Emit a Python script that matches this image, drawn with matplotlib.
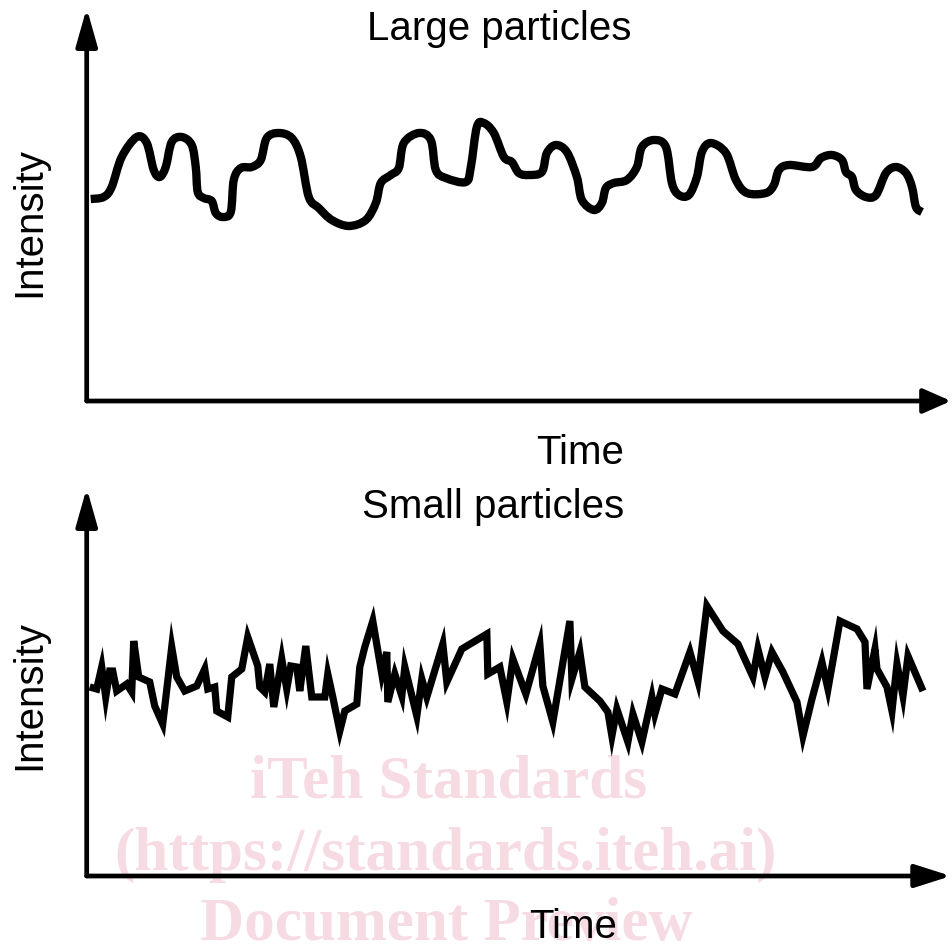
import matplotlib
matplotlib.use("Agg")
import matplotlib.pyplot as plt
from matplotlib.path import Path
from matplotlib.patches import PathPatch

# Large particles: smooth, slow fluctuations
large_time = [4, 17, 25, 35, 50, 60, 67, 73, 79, 85, 95, 105, 109, 111, 117, 125,
              129, 136, 144, 147, 154, 165, 174, 180, 192, 205, 214, 222, 232, 245,
              262, 279, 289, 294, 304, 312, 317, 332, 344, 349, 359, 379, 384, 390,
              397, 407, 417, 425, 432, 442, 455, 460, 469, 480, 490, 495, 507, 515,
              519, 527, 540, 550, 555, 567, 579, 585, 592, 602, 610, 615, 624, 639,
              649, 660, 679, 687, 692, 702, 725, 734, 745, 755, 759, 765, 769, 779,
              789, 799, 809, 819, 825, 829, 835]
large_intensity = [202, 204, 214, 244, 264, 258, 231, 224, 234, 259, 264, 256, 234,
                   209, 203, 200, 188, 184, 189, 221, 233, 234, 241, 263, 268, 263,
                   244, 204, 193, 181, 175, 181, 198, 218, 226, 233, 258, 268, 261,
                   231, 223, 219, 234, 274, 278, 268, 244, 239, 228, 226, 229, 248,
                   256, 249, 224, 201, 191, 198, 213, 218, 221, 234, 254, 261, 254,
                   218, 206, 206, 224, 249, 258, 248, 221, 208, 208, 216, 231, 236,
                   234, 243, 246, 241, 229, 224, 211, 204, 206, 228, 234, 228, 214,
                   194, 189]

# Small particles: fast, jagged fluctuations
small_time = [3, 10, 15, 19, 23, 26, 30, 40, 45, 47, 52, 63, 68, 76, 85, 90, 98,
              110, 118, 121, 128, 130, 141, 145, 155, 161, 171, 173, 178, 183, 187,
              195, 200, 204, 210, 213, 219, 225, 238, 241, 246, 253, 258, 270, 273,
              278, 286, 295, 300, 301, 308, 315, 318, 330, 335, 340, 356, 360, 375,
              400, 401, 413, 420, 426, 439, 453, 456, 466, 483, 485, 493, 498, 513,
              521, 525, 530, 541, 546, 555, 565, 568, 575, 588, 603, 611, 620, 636,
              651, 666, 671, 678, 685, 696, 710, 716, 725, 735, 741, 753, 770, 778,
              780, 788, 790, 800, 805, 810, 816, 821, 836]
small_intensity = [189, 187, 209, 179, 205, 205, 185, 192, 184, 235, 199, 194, 170,
                   152, 229, 199, 185, 190, 207, 187, 189, 165, 159, 199, 207, 239,
                   210, 189, 184, 212, 169, 217, 187, 210, 209, 185, 230, 179, 179,
                   202, 179, 145, 165, 172, 209, 229, 255, 202, 224, 174, 202, 180,
                   209, 160, 197, 179, 232, 194, 227, 242, 202, 209, 174, 217, 182,
                   232, 190, 154, 255, 197, 224, 189, 175, 164, 140, 167, 134, 162,
                   134, 179, 162, 187, 182, 224, 195, 270, 245, 232, 199, 227, 199,
                   224, 204, 174, 140, 177, 214, 187, 255, 247, 234, 187, 227, 207,
                   189, 165, 212, 180, 220, 185]

W = H = 952.0
FONT = "Liberation Sans"


def px_axes(fig, left, top, right, bottom):
    ax = fig.add_axes([left / W, 1 - bottom / H, (right - left) / W, (bottom - top) / H])
    ax.set_axis_off()
    return ax


def draw_arrows(ax, x_head, y_head):
    lw = 3.4
    # y axis arrow
    ax.annotate("", xy=(0, 1), xytext=(0, 0), xycoords="axes fraction",
                arrowprops=dict(arrowstyle="-|>,head_length=%g,head_width=%g" % y_head,
                                lw=lw, color="black", shrinkA=0, shrinkB=0,
                                mutation_scale=1))
    # x axis arrow
    ax.annotate("", xy=(1, 0), xytext=(0, 0), xycoords="axes fraction",
                arrowprops=dict(arrowstyle="-|>,head_length=%g,head_width=%g" % x_head,
                                lw=lw, color="black", shrinkA=0, shrinkB=0,
                                mutation_scale=1))


def smooth_path(xs, ys):
    # catmull-rom through the points, drawn as cubic bezier segments
    pts = list(zip(xs, ys))
    verts = [pts[0]]
    codes = [Path.MOVETO]
    n = len(pts)
    for i in range(n - 1):
        p0 = pts[max(i - 1, 0)]
        p1 = pts[i]
        p2 = pts[i + 1]
        p3 = pts[min(i + 2, n - 1)]
        c1 = (p1[0] + (p2[0] - p0[0]) / 6, p1[1] + (p2[1] - p0[1]) / 6)
        c2 = (p2[0] - (p3[0] - p1[0]) / 6, p2[1] - (p3[1] - p1[1]) / 6)
        verts += [c1, c2, p2]
        codes += [Path.CURVE4] * 3
    return Path(verts, codes)


fig = plt.figure(figsize=(9.52, 9.52), dpi=100)
fig.patch.set_facecolor("white")

# top panel
ax1 = px_axes(fig, 86.7, 8, 951, 401)
ax1.add_patch(PathPatch(smooth_path(large_time, large_intensity), facecolor="none",
                        edgecolor="black", lw=6.0, joinstyle="round", capstyle="butt"))
ax1.set_xlim(0, 864)
ax1.set_ylim(0, 393)
draw_arrows(ax1, x_head=(17, 7.5), y_head=(23, 6.5))

# bottom panel
ax2 = px_axes(fig, 86.7, 488, 951, 876)
ax2.plot(small_time, small_intensity, color="black", lw=5.2,
         solid_joinstyle="miter", solid_capstyle="butt")
ax2.set_xlim(0, 864)
ax2.set_ylim(0, 388)
draw_arrows(ax2, x_head=(22, 7), y_head=(23, 6.5))


def ftext(x, y, s, **kw):
    fig.text(x / W, 1 - y / H, s, ha="center", va="center", **kw)


ftext(499, 29, "Large particles", fontsize=29, family=FONT)
ftext(580, 453, "Time", fontsize=29, family=FONT)
ftext(29, 222, "Intensity", fontsize=29, family=FONT, rotation=90)

ftext(493, 507, "Small particles", fontsize=29, family=FONT)
ftext(573, 927, "Time", fontsize=29, family=FONT)
ftext(29, 695, "Intensity", fontsize=29, family=FONT, rotation=90)

# watermark, behind the axes
wm = dict(fontsize=44, family="Liberation Serif", weight="bold", color="#f7dbe3", zorder=-5)
ftext(449, 782, "iTeh Standards", **wm)
ftext(446, 855, "(https://standards.iteh.ai)", **wm)
ftext(446, 925, "Document Preview", **wm)

fig.savefig("out.png", dpi=100, facecolor="white")
